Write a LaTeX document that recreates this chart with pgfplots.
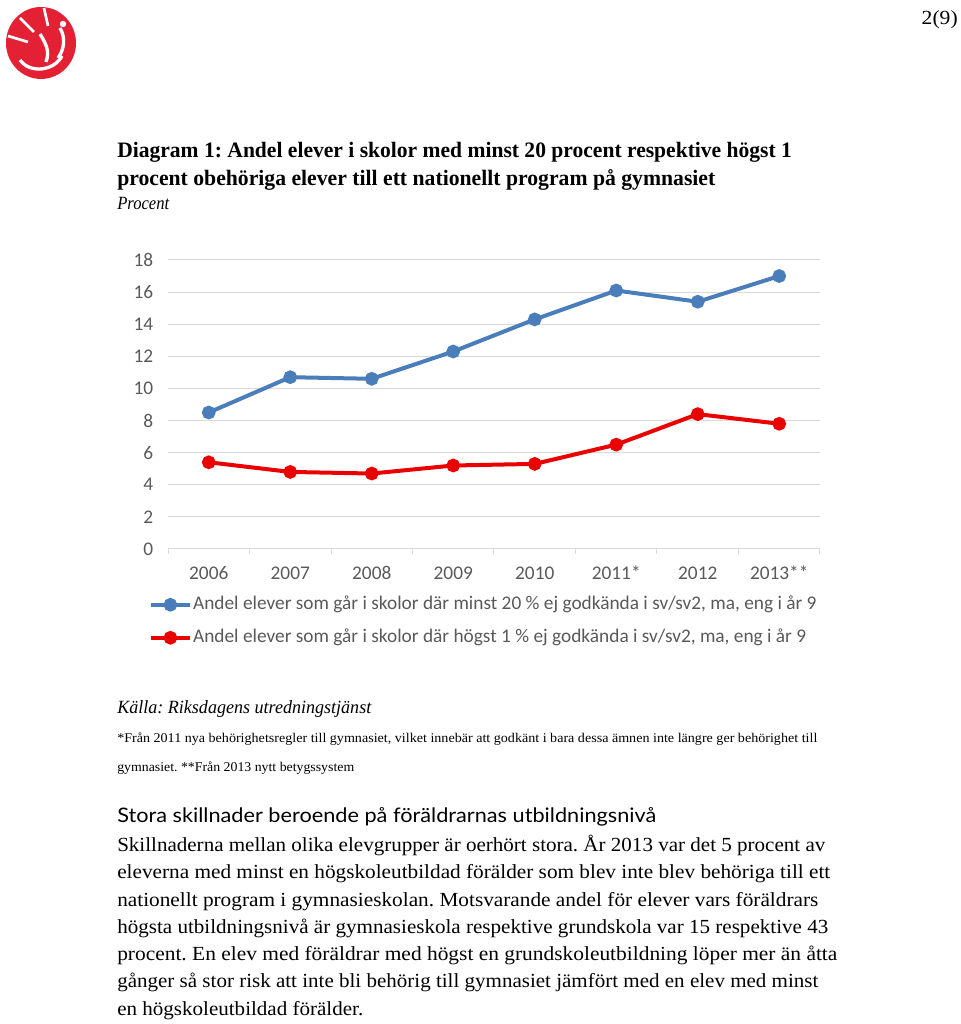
\documentclass[border=0pt]{standalone}
\usepackage{fontspec}
\setmainfont{Liberation Serif}
\newfontfamily\calfont{Carlito}
\newfontfamily\latofont{Lato}
\usepackage{graphicx}
\usepackage{pgfplots}
\pgfplotsset{compat=1.18}
\definecolor{sblue}{RGB}{74,126,187}
\definecolor{sred}{RGB}{235,0,0}
\definecolor{tgray}{RGB}{89,89,89}
\definecolor{ggray}{RGB}{217,217,217}
\definecolor{logored}{RGB}{228,32,52}
\newcommand{\fit}[2]{\resizebox{#1}{\height}{#2}}
\frenchspacing
\begin{document}
\begin{tikzpicture}[x=0.75pt,y=0.75pt]
\useasboundingbox (0,0) rectangle (960,1024);
% logo
\fill[logored] (41,981) ellipse (35 and 36);
\draw[white,line width=2.5] (20,964) .. controls (30,950) and (54,953) .. (62,968);
\draw[white,line width=2.5] (40,990) .. controls (46,980) and (50,973) .. (46,962);
\draw[white,line width=2.5] (60,996) .. controls (66,986) and (64,974) .. (58,966);
\fill[white] (63,1000) circle (3.2);
\draw[white,line width=2] (8,988) -- (28,982);
\draw[white,line width=2] (20,1006) -- (34,992);
\draw[white,line width=2] (44,1016) -- (48,998);
% page number
\node[anchor=base east,inner sep=0pt,font=\fontsize{15}{17}\selectfont] at (958,999) {\fit{27pt}{2(9)}};
% title
\node[anchor=base west,inner sep=0pt,font=\bfseries\fontsize{16.5}{19}\selectfont] at (117,866) {\fit{506pt}{Diagram 1: Andel elever i skolor med minst 20 procent respektive högst 1}};
\node[anchor=base west,inner sep=0pt,font=\bfseries\fontsize{16.5}{19}\selectfont] at (117,838) {\fit{448.5pt}{procent obehöriga elever till ett nationellt program på gymnasiet}};
\node[anchor=base west,inner sep=0pt,font=\itshape\fontsize{14}{16}\selectfont] at (117,814) {\fit{39pt}{Procent}};
% chart
\begin{axis}[
  at={(126pt,356.25pt)}, anchor=south west,
  scale only axis, width=489pt, height=216.75pt,
  xmin=-0.5, xmax=7.5, ymin=0, ymax=18,
  xtick={0,...,7},
  xticklabels={2006,2007,2008,2009,2010,2011*,2012,2013**},
  ytick={0,2,...,18},
  ymajorgrids, major grid style={ggray,line width=0.75pt},
  axis x line*=bottom, axis y line*=left,
  x axis line style={ggray,line width=0.75pt,-},
  y axis line style={draw=none},
  major tick length=0pt,
  extra x ticks={-0.5,0.5,...,7.5},
  extra x tick labels={},
  extra x tick style={major tick length=4pt, tick align=outside, tick style={ggray,line width=0.75pt}, grid=none},
  tick label style={font=\calfont\fontsize{14.5}{17}\selectfont, text=tgray},
  /pgf/number format/assume math mode=true,
  xticklabel style={anchor=north, inner sep=0pt, text height=10pt, text depth=3pt, yshift=-12.6pt},
  yticklabel style={xshift=-7.5pt},
  legend style={at={(axis description cs:-0.029,-0.163)}, anchor=north west, draw=none, fill=none,
    inner sep=0pt, outer sep=0pt, row sep=11.75pt,
    font=\calfont\fontsize{14.5}{17}\selectfont, text=tgray,
    nodes={inner sep=0pt, text height=10pt, text depth=3pt},
    /tikz/every odd column/.append style={column sep=1pt}},
  legend cell align=left,
  legend image code/.code={\draw[mark repeat=2,mark phase=2,#1] plot coordinates {(0pt,0pt)(14.5pt,0pt)(29pt,0pt)};},
]
\addplot[sblue, line width=3pt, mark=*, mark size=3.6pt] coordinates {
(0,8.5) (1,10.7) (2,10.6) (3,12.3) (4,14.3) (5,16.1) (6,15.4) (7,17.0)};
\addlegendentry{Andel elever som går i skolor där minst 20 \% ej godkända i sv/sv2, ma, eng i år 9}
\addplot[sred, line width=3pt, mark=*, mark size=3.6pt] coordinates {
(0,5.4) (1,4.8) (2,4.7) (3,5.2) (4,5.3) (5,6.5) (6,8.4) (7,7.8)};
\addlegendentry{Andel elever som går i skolor där högst 1 \% ej godkända i sv/sv2, ma, eng i år 9}
\end{axis}
% source and notes
\node[anchor=base west,inner sep=0pt,font=\itshape\fontsize{14}{16}\selectfont] at (117,310) {\fit{190.5pt}{Källa: Riksdagens utredningstjänst}};
\node[anchor=base west,inner sep=0pt,font=\fontsize{10}{12}\selectfont] at (117,281) {\fit{525pt}{*Från 2011 nya behörighetsregler till gymnasiet, vilket innebär att godkänt i bara dessa ämnen inte längre ger behörighet till}};
\node[anchor=base west,inner sep=0pt,font=\fontsize{10}{12}\selectfont] at (117,252) {\fit{177.75pt}{gymnasiet. **Från 2013 nytt betygssystem}};
\node[anchor=base west,inner sep=0pt,font=\latofont\fontsize{15}{18}\selectfont] at (117,201) {\fit{404.25pt}{Stora skillnader beroende på föräldrarnas utbildningsnivå}};
\begin{scope}[every node/.style={anchor=base west,inner sep=0pt,font=\fontsize{15}{18}\selectfont}]
\node at (117,172) {\fit{531pt}{Skillnaderna mellan olika elevgrupper är oerhört stora. År 2013 var det 5 procent av}};
\node at (117,145) {\fit{534.75pt}{eleverna med minst en högskoleutbildad förälder som blev inte blev behöriga till ett}};
\node at (117,117) {\fit{525.75pt}{nationellt program i gymnasieskolan. Motsvarande andel för elever vars föräldrars}};
\node at (117,90) {\fit{533.25pt}{högsta utbildningsnivå är gymnasieskola respektive grundskola var 15 respektive 43}};
\node at (117,63) {\fit{540pt}{procent. En elev med föräldrar med högst en grundskoleutbildning löper mer än åtta}};
\node at (117,36) {\fit{525.75pt}{gånger så stor risk att inte bli behörig till gymnasiet jämfört med en elev med minst}};
\node at (117,8) {\fit{184.5pt}{en högskoleutbildad förälder.}};
\end{scope}
\end{tikzpicture}
\end{document}
